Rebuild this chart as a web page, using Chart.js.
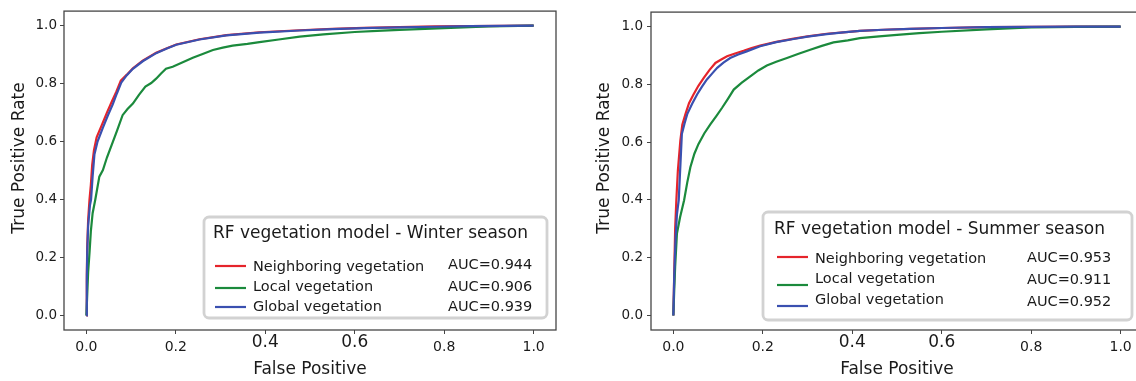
<!DOCTYPE html>
<html>
<head>
<meta charset="utf-8">
<title>ROC curves - RF vegetation model</title>
<script src="https://cdn.jsdelivr.net/npm/chart.js@4.4.1/dist/chart.umd.min.js"></script>
<style>
  html, body { margin: 0; padding: 0; background: #fff; width: 1136px; height: 381px; overflow: hidden; }
  .panel { position: absolute; top: 0; height: 381px; }
</style>
</head>
<body>
<div class="panel" style="left:0; width:580px;"><canvas id="winterChart" width="580" height="381"></canvas></div>
<div class="panel" style="left:580px; width:600px;"><canvas id="summerChart" width="600" height="381"></canvas></div>

<script>
// ---- data ----
const seriesNames = ['Neighboring vegetation', 'Local vegetation', 'Global vegetation'];
const seriesColors = ['#e5242b', '#1b8a3c', '#3a50b0'];
const xTicks = [0, 0.2, 0.4, 0.6, 0.8, 1.0];
const yTicks = [0, 0.2, 0.4, 0.6, 0.8, 1.0];

const aucWinter = [0.944, 0.906, 0.939];
const aucSummer = [0.953, 0.911, 0.952];

// Winter season
const winterNeighborFpr = [0, 0.001, 0.002, 0.004, 0.007, 0.010, 0.013, 0.017, 0.023, 0.034, 0.046, 0.057, 0.067, 0.077, 0.09, 0.104, 0.126, 0.156, 0.18, 0.201, 0.253, 0.313, 0.387, 0.477, 0.55, 0.62, 0.7, 0.78, 0.86, 0.93, 1.0];
const winterNeighborTpr = [0, 0.14, 0.24, 0.33, 0.40, 0.45, 0.52, 0.57, 0.615, 0.655, 0.70, 0.738, 0.772, 0.81, 0.83, 0.853, 0.879, 0.906, 0.922, 0.935, 0.953, 0.967, 0.977, 0.984, 0.989, 0.992, 0.995, 0.997, 0.998, 0.999, 1.0];

const winterLocalFpr = [0, 0.0015, 0.004, 0.007, 0.010, 0.014, 0.020, 0.029, 0.037, 0.046, 0.055, 0.068, 0.081, 0.092, 0.104, 0.118, 0.132, 0.145, 0.156, 0.167, 0.178, 0.193, 0.208, 0.238, 0.260, 0.283, 0.305, 0.327, 0.36, 0.387, 0.43, 0.477, 0.53, 0.6, 0.65, 0.7, 0.8, 0.9, 1.0];
const winterLocalTpr = [0, 0.055, 0.15, 0.216, 0.29, 0.353, 0.40, 0.479, 0.502, 0.545, 0.582, 0.635, 0.691, 0.712, 0.731, 0.762, 0.79, 0.802, 0.817, 0.835, 0.851, 0.858, 0.868, 0.889, 0.902, 0.916, 0.924, 0.931, 0.937, 0.943, 0.952, 0.962, 0.970, 0.978, 0.982, 0.985, 0.991, 0.997, 1.0];

const winterGlobalFpr = [0, 0.001, 0.002, 0.004, 0.008, 0.0105, 0.014, 0.018, 0.025, 0.037, 0.048, 0.059, 0.068, 0.078, 0.09, 0.104, 0.126, 0.156, 0.18, 0.201, 0.253, 0.313, 0.387, 0.477, 0.55, 0.62, 0.7, 0.78, 0.86, 0.93, 1.0];
const winterGlobalTpr = [0, 0.12, 0.22, 0.31, 0.38, 0.40, 0.48, 0.555, 0.60, 0.648, 0.69, 0.728, 0.765, 0.803, 0.828, 0.851, 0.877, 0.905, 0.921, 0.934, 0.952, 0.966, 0.976, 0.983, 0.988, 0.991, 0.994, 0.996, 0.998, 0.999, 1.0];

// Summer season
const summerNeighborFpr = [0, 0.002, 0.004, 0.0067, 0.010, 0.0156, 0.020, 0.027, 0.035, 0.045, 0.056, 0.068, 0.081, 0.094, 0.107, 0.120, 0.138, 0.157, 0.175, 0.194, 0.23, 0.269, 0.30, 0.343, 0.38, 0.417, 0.47, 0.53, 0.6, 0.7, 0.8, 0.9, 1.0];
const summerNeighborTpr = [0, 0.15, 0.30, 0.40, 0.50, 0.605, 0.66, 0.697, 0.735, 0.765, 0.795, 0.822, 0.85, 0.874, 0.886, 0.897, 0.907, 0.916, 0.926, 0.934, 0.947, 0.958, 0.966, 0.975, 0.980, 0.985, 0.989, 0.992, 0.995, 0.998, 0.999, 1.0, 1.0];

const summerLocalFpr = [0, 0.002, 0.004, 0.008, 0.015, 0.024, 0.031, 0.038, 0.047, 0.056, 0.069, 0.083, 0.096, 0.109, 0.122, 0.135, 0.153, 0.172, 0.19, 0.209, 0.23, 0.254, 0.28, 0.306, 0.332, 0.358, 0.39, 0.417, 0.46, 0.5, 0.55, 0.6, 0.7, 0.8, 0.9, 1.0];
const summerLocalTpr = [0, 0.09, 0.169, 0.284, 0.34, 0.399, 0.46, 0.513, 0.56, 0.593, 0.63, 0.662, 0.69, 0.719, 0.75, 0.782, 0.806, 0.828, 0.848, 0.865, 0.878, 0.891, 0.906, 0.92, 0.933, 0.945, 0.952, 0.96, 0.966, 0.971, 0.977, 0.982, 0.99, 0.997, 0.999, 1.0];

const summerGlobalFpr = [0, 0.002, 0.005, 0.008, 0.012, 0.016, 0.019, 0.025, 0.031, 0.042, 0.053, 0.064, 0.075, 0.087, 0.098, 0.112, 0.127, 0.145, 0.164, 0.194, 0.23, 0.269, 0.30, 0.343, 0.38, 0.417, 0.47, 0.53, 0.6, 0.7, 0.8, 0.9, 1.0];
const summerGlobalTpr = [0, 0.14, 0.27, 0.35, 0.399, 0.53, 0.628, 0.665, 0.697, 0.733, 0.765, 0.792, 0.817, 0.838, 0.857, 0.875, 0.891, 0.903, 0.914, 0.932, 0.946, 0.957, 0.965, 0.974, 0.980, 0.985, 0.989, 0.992, 0.995, 0.998, 0.999, 1.0, 1.0];

const FONT = '"DejaVu Sans", Verdana, sans-serif';
const TEXT = '#1a1a1a';

// zip fpr/tpr into points
function toPoints(fpr, tpr) {
    return fpr.map((x, i) => ({ x: x, y: tpr[i] }));
}

// full frame around the plot area (matplotlib style spines)
const framePlugin = {
    id: 'frame',
    afterDatasetsDraw(chart) {
        const a = chart.chartArea;
        const c = chart.ctx;
        c.save();
        c.strokeStyle = '#454545';
        c.lineWidth = 1.3;
        c.strokeRect(a.left, a.top, a.right - a.left, a.bottom - a.top);
        c.restore();
    }
};

// y axis title, drawn by hand so it can sit a bit above the middle like the original
const yTitlePlugin = {
    id: 'yTitle',
    afterDraw(chart, args, o) {
        const c = chart.ctx;
        c.save();
        c.translate(o.x, o.y);
        c.rotate(-Math.PI / 2);
        c.font = `${o.size}px ${FONT}`;
        c.fillStyle = TEXT;
        c.textAlign = 'center';
        c.textBaseline = 'middle';
        c.fillText(o.text, 0, 0);
        c.restore();
    }
};

// boxed legend with title + AUC column
const rocLegendPlugin = {
    id: 'rocLegend',
    afterDraw(chart, args, o) {
        const c = chart.ctx;
        const b = o.box;
        c.save();
        c.beginPath();
        c.roundRect(b.x, b.y, b.w, b.h, 5);
        c.fillStyle = 'rgba(255,255,255,0.85)';
        c.fill();
        c.strokeStyle = '#d2d2d2';
        c.lineWidth = 2.8;
        c.stroke();

        c.fillStyle = TEXT;
        c.textBaseline = 'middle';
        c.font = `17px ${FONT}`;
        c.fillText(o.title, o.titleX, o.titleY);

        c.font = `14.5px ${FONT}`;
        seriesNames.forEach((name, i) => {
            c.strokeStyle = seriesColors[i];
            c.lineWidth = 2.2;
            c.beginPath();
            c.moveTo(o.lineX0, o.lineY[i]);
            c.lineTo(o.lineX1, o.lineY[i]);
            c.stroke();
            c.fillText(name, o.textX, o.textY[i]);
            c.fillText('AUC=' + o.auc[i].toFixed(3), o.aucX, o.aucY[i]);
        });
        c.restore();
    }
};

function makeRocChart(canvasId, pointSets, layout, legend, yTitle) {
    // matplotlib draws in legend order, so the last series ends up on top
    const datasets = pointSets.map((pts, i) => ({
        label: seriesNames[i],
        data: pts,
        borderColor: seriesColors[i],
        backgroundColor: seriesColors[i],
        borderWidth: 2.2,
        pointRadius: 0,
        tension: 0,
        fill: false,
        order: pointSets.length - i
    }));

    const tickGrid = {
        drawOnChartArea: false,
        drawTicks: true,
        tickLength: 4,
        tickColor: '#444',
        tickWidth: 1
    };

    return new Chart(document.getElementById(canvasId), {
        type: 'line',
        data: { datasets: datasets },
        options: {
            responsive: false,
            animation: false,
            devicePixelRatio: 1,
            layout: { padding: layout.padding },
            plugins: {
                legend: { display: false },
                tooltip: { enabled: false },
                rocLegend: legend,
                yTitle: yTitle
            },
            scales: {
                x: {
                    type: 'linear',
                    min: -0.05,
                    max: 1.05,
                    afterBuildTicks: s => { s.ticks = xTicks.map(v => ({ value: v })); },
                    afterFit: s => { s.height = layout.xHeight; },
                    grid: tickGrid,
                    border: { display: false },
                    ticks: {
                        autoSkip: false,
                        maxRotation: 0,
                        padding: 4.6,
                        color: TEXT,
                        // 0.4 and 0.6 are printed larger in the original
                        font: ctx => {
                            const v = ctx.tick ? ctx.tick.value : 0;
                            const big = Math.abs(v - 0.4) < 1e-6 || Math.abs(v - 0.6) < 1e-6;
                            return big ? { family: FONT, size: 17, lineHeight: 0.5 } : { family: FONT, size: 14, lineHeight: 1.2 };
                        },
                        callback: v => v.toFixed(1)
                    },
                    title: {
                        display: true,
                        text: 'False Positive',
                        color: TEXT,
                        font: { family: FONT, size: 17 },
                        padding: { top: 0, bottom: 0.8 }
                    }
                },
                y: {
                    type: 'linear',
                    min: -0.05,
                    max: 1.05,
                    afterBuildTicks: s => { s.ticks = yTicks.map(v => ({ value: v })); },
                    afterFit: s => { s.width = layout.yWidth; },
                    grid: tickGrid,
                    border: { display: false },
                    ticks: {
                        padding: layout.yTickPad,
                        color: TEXT,
                        font: { family: FONT, size: 13.5 },
                        callback: v => v.toFixed(1)
                    }
                }
            }
        },
        plugins: [framePlugin, yTitlePlugin, rocLegendPlugin]
    });
}

// left panel - winter
makeRocChart('winterChart',
    [toPoints(winterNeighborFpr, winterNeighborTpr),
     toPoints(winterLocalFpr, winterLocalTpr),
     toPoints(winterGlobalFpr, winterGlobalTpr)],
    { padding: { top: 11, right: 24, left: 0, bottom: 0 }, xHeight: 51, yWidth: 64, yTickPad: 3 },
    {
        title: 'RF vegetation model - Winter season',
        auc: aucWinter,
        box: { x: 204, y: 217, w: 343, h: 101 },
        titleX: 213, titleY: 234,
        lineX0: 215, lineX1: 246,
        lineY: [266, 288, 307],
        textX: 253, textY: [267, 287, 307],
        aucX: 448, aucY: [265, 287, 307]
    },
    { text: 'True Positive Rate', x: 20, y: 158, size: 17 }
);

// right panel - summer (plot runs past the window edge, like the cropped original)
makeRocChart('summerChart',
    [toPoints(summerNeighborFpr, summerNeighborTpr),
     toPoints(summerLocalFpr, summerLocalTpr),
     toPoints(summerGlobalFpr, summerGlobalTpr)],
    { padding: { top: 11, right: 37, left: 0, bottom: 0 }, xHeight: 51, yWidth: 71, yTickPad: 4 },
    {
        title: 'RF vegetation model - Summer season',
        auc: aucSummer,
        box: { x: 183, y: 212, w: 369, h: 108 },
        titleX: 194, titleY: 230,
        lineX0: 197, lineX1: 228,
        lineY: [257, 285, 306],
        textX: 235, textY: [259, 279, 300],
        aucX: 447, aucY: [258, 280, 302]
    },
    { text: 'True Positive Rate', x: 25, y: 158, size: 17 }
);
</script>
</body>
</html>
